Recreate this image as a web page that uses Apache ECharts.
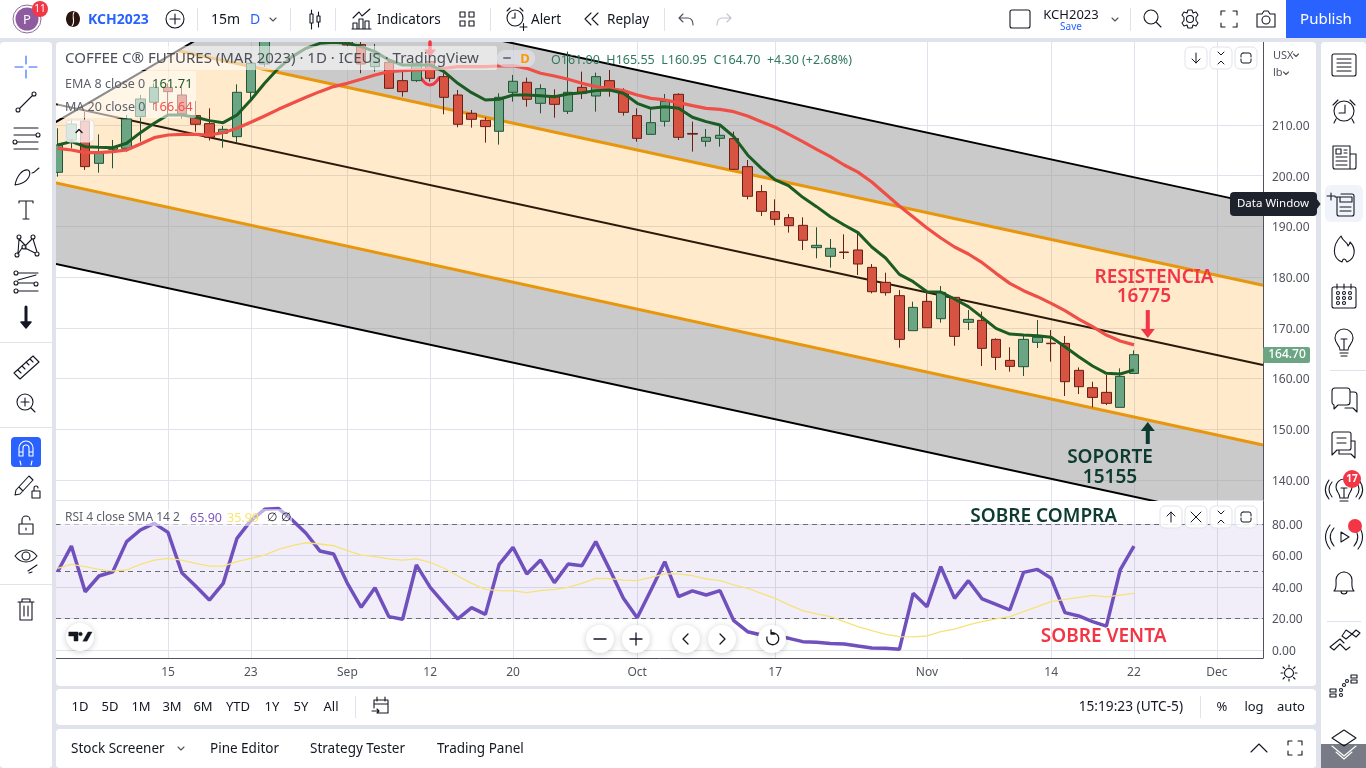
<!DOCTYPE html>
<html><head><meta charset="utf-8"><title>KCH2023</title>
<script src="https://cdn.jsdelivr.net/npm/echarts@6/dist/echarts.min.js"></script>
<style>html,body{margin:0;padding:0;background:#e0e3eb;overflow:hidden}#c{width:1366px;height:768px}</style>
</head><body><div id="c"></div>
<script>
// [open, close, low, high]
const candles = [
[200.67,206.06,199.81,209.35],[207.05,210.2,205.4,211.0],[210.8,201.79,201.13,212.63],[202.44,204.61,200.6,208.16],[205.2,205.6,201.46,207.05],
[205.4,211.19,204.75,211.98],[211.65,215.13,206.72,215.92],[214.48,217.43,212.96,218.22],[217.43,216.58,211.65,218.22],[215.92,212.17,211.32,217.57],
[211.85,210.14,208.69,214.74],[210.27,207.57,206.94,213.29],[208.36,209.15,205.53,209.81],[207.7,216.45,206.52,218.03],[216.45,222.17,214.93,222.8],
[222.04,227.4,221.5,229],[228,231,227,232],[231,233,229,234],[233,231,228,234],[231,232,228,233],
[232,230,227.5,233],[228.5,225.78,225.5,230],[225.85,222.04,220.2,226.6],[221.51,224.14,220.52,226],[222.36,217.24,217.1,222.8],
[218.75,216.58,215.59,220.85],[218.75,222.17,218.5,223.15],[222.5,219.21,218.55,226.7],[219.54,215.46,212.11,220.2],[215.92,210.14,209.55,216.91],
[212.31,211.12,209.48,212.96],[210.93,209.68,206.52,211.52],[208.76,215.46,206.13,216.25],[216.45,218.62,214.61,219.87],[218.42,215.07,213.62,219.34],
[214.28,217.17,212.31,218.03],[215.79,214.08,211.45,217.04],[212.7,216.45,212.17,224.47],[217.43,216.25,215.13,220.52],[215.72,219.54,212.63,220.33],
[218.75,216.91,215.59,220.85],[216.25,212.5,211.85,217.24],[211.85,207.37,206.72,213.29],[208.16,210.46,208.16,213.29],[210.73,214.67,209.68,216.12],
[216.05,207.57,207.05,216.25],[208.33,208.2,204.75,210.66],[206.78,207.57,205.73,209.22],[207.37,207.97,205.73,210.0],[207.31,201.26,201.13,208.69],
[201.79,195.94,195.34,203.1],[196.86,192.98,192.06,198.17],[192.91,191.4,190.21,195.34],[191.73,190.15,188.77,192.45],[190.21,187.26,185.35,191.79],
[185.81,186.27,183.71,189.82],[184.1,185.68,181.87,187.52],[184.95,184.85,183.57,188.44],[185.35,182.58,180.41,188.5],[181.92,177.12,176.8,182.58],
[178.97,176.93,176.34,180.87],[176.34,167.72,166.08,177.45],[169.43,174.03,169.43,175.15],[175.22,170.02,170.02,177.32],[171.8,176.99,171.01,178.24],
[176.01,168.31,166.47,176.01],[171.08,171.67,169.56,173.51],[171.47,165.95,162.46,173.18],[167.72,164.17,161.67,167.92],[163.58,162.4,161.35,166.15],
[162.33,167.72,160.49,168.38],[167.13,168.12,166.01,171.54],[166.97,166.87,163.32,169.56],[166.93,159.37,156.55,168.38],[161.61,158.39,156.94,162.2],
[158.19,156.28,154.31,159.37],[157.27,155.1,154.77,160.69],[154.31,160.42,154.31,162.0],[161.0,164.7,160.95,165.55]];
const ema8 = [206.06,206.72,205.73,205.6,205.53,206.39,208.49,210.33,211.98,211.98,211.52,210.86,210.46,211.98,214.94,218.22,221.18,223.48,225.13,226.11,226.31,226.11,225.46,224.47,222.82,221.84,221.84,221.84,220.52,218.22,216.38,214.94,215.07,215.92,215.92,215.79,215.59,216.12,216.38,216.78,216.91,216.25,214.28,213.29,213.62,213.29,211.52,210.66,210.0,207.7,204.09,201.46,199.16,197.97,195.74,193.9,191.92,190.28,188.77,185.94,183.77,180.54,179.1,177.12,177.06,175.68,174.17,172.06,169.89,168.77,168.58,168.45,168.12,166.28,164.3,162.46,161.02,160.88,161.71];
const ma20 = [205.4,205.07,204.55,204.55,204.75,205.07,206.26,207.5,208.03,208.16,208.16,208.03,208.49,209.35,210.53,211.78,213.09,214.28,215.46,216.58,217.57,218.22,219.01,219.87,220.52,220.72,220.85,220.98,221.18,221.51,221.51,221.51,221.64,221.71,221.18,220.2,219.67,219.01,218.22,217.57,217.17,216.78,215.92,215.26,214.94,214.41,213.82,213.29,213.09,212.63,211.78,210.66,209.55,208.16,206.72,205.2,203.76,202.11,200.7,198.76,196.39,194.02,191.85,189.68,187.71,185.94,184.56,182.84,180.74,178.77,177.32,176.14,174.82,173.38,171.73,170.22,168.58,167.39,166.64];
const rsi = [49.7,66.0,37.0,47.0,49.7,68.8,76.2,80.4,74.7,49.1,40.6,31.7,42.3,70.9,82.1,89.3,89.9,82.5,74.1,62.9,61.0,42.3,27.1,39.6,21.2,19.5,54.0,39.8,29.6,19.7,26.9,22.6,54.4,65.2,48.3,57.1,42.8,54.6,53.5,68.8,51.2,32.8,20.5,38.1,56.1,33.9,37.5,34.9,37.7,18.6,11.6,9.5,8.9,7.4,5.3,4.9,4.2,3.8,2.5,1.3,1.1,0.4,36.0,27.5,52.9,32.8,44.0,32.4,29.0,25.4,49.3,51.2,45.5,23.7,21.6,18.0,15.2,50.8,65.9];
const rsiSma = [51.9,54.4,52.9,51.2,50.2,50.8,54.4,57.1,58.2,57.1,55.0,53.3,53.3,56.1,58.2,60.3,63.9,66.2,68.1,67.3,66.2,63.1,60.3,59.3,57.8,57.1,57.8,55.7,51.9,47.0,42.3,38.5,37.7,37.5,36.4,37.7,38.5,39.8,42.3,45.5,45.3,44.4,44.0,46.1,48.3,48.3,47.2,45.1,44.0,41.3,39.2,36.0,32.8,28.6,25.0,22.9,21.2,18.0,14.8,12.3,9.9,8.5,8.3,8.9,11.6,13.3,15.9,18.0,19.7,21.2,24.3,27.5,30.7,32.2,33.4,34.7,33.7,34.9,35.99];
const tickIndex = [8,14,21,27,33,42,52,63,72,78,84];
const tickLabels = ['15','23','Sep','12','20','Oct','17','Nov','14','22','Dec'];
const priceTicks = [140,150,160,170,180,190,200,210];
const rsiTicks = [0,20,40,60,80];
// channel drawing anchors: [bar index, price]
const upperBlack = [[15.94,236.15],[87.35,194.2]];
const upperOrange = [[8.72,224.66],[87.35,178.4]];
const midLine = [[-1,214.6],[87.35,162.66]];
const lowerOrange = [[-1,199.08],[87.35,146.9]];
const lowerBlack = [[-1,183.1],[87.35,131.2]];
const diagonal = [[-1,209.2],[15.94,236.15]];
const xMin=-0.116, xMax=87.35;
const FONT = '"Noto Sans","Open Sans",sans-serif';
const INK = '#131722';
const G = [];
let shapeCount=0;
function rect(x,y,w,h,fill,r,z,extra){G.push({type:'rect',z:z==null?-5:z,silent:true,shape:{x,y,width:w,height:h,r:r||0},style:Object.assign({fill},extra||{})});}
function txt(x,y,s,o){o=o||{};G.push({type:'text',z:o.z||60,silent:true,x,y:y+1,style:{text:s,fill:o.c||INK,font:(o.w||'normal')+' '+(o.s||14)+'px '+(o.f||FONT),textAlign:o.a||'left',textVerticalAlign:'middle',opacity:o.o==null?1:o.o}});}
function ic(x,y,d,o){o=o||{};if(!d)return;const name='tvic'+(shapeCount++);echarts.graphic.registerShape(name,echarts.graphic.extendPath(d,{}));G.push({type:name,z:o.z||60,silent:true,x,y,style:{fill:o.fill||'none',stroke:o.c||INK,lineWidth:o.lw||1.1,lineCap:'round',lineJoin:'round'}});}
function cir(x,y,r){return `M${x-r} ${y}a${r} ${r} 0 1 0 ${2*r} 0a${r} ${r} 0 1 0 ${-2*r} 0`;}
function sep(x,y1,y2){rect(x,y1,1,y2-y1,'#e0e3eb',0,60);}
// panels
rect(56,42,1260,644,'#fff',4);
rect(0,0,1366,38,'#fff',0,10);
rect(0,38,1366,4,'#e0e3eb',0,10);
rect(0,42,52,726,'#fff',4,10);
rect(52,38,4,730,'#e0e3eb',0,10);
rect(1286,0,80,38,'#2962ff',0,60);
rect(0,342,52,1,'#e0e3eb',0,60);rect(0,427,52,1,'#e0e3eb',0,60);rect(0,584,52,1,'#e0e3eb',0,60);
rect(56,689,1260,36,'#fff',4);
rect(56,729,1260,39,'#fff',4);
rect(1321,42,45,726,'#fff',4);
rect(1321,744,45,24,'#787b86',0,60);
rect(1330,370,36,1,'#e0e3eb',0,60);
rect(1327,621,34,1,'#e0e3eb',0,60);
// top bar
G.push({type:'circle',z:60,silent:true,shape:{cx:27,cy:19,r:14},style:{fill:'#fff',stroke:'#8f6a9c',lineWidth:1}});
G.push({type:'circle',z:60,silent:true,shape:{cx:27,cy:19,r:11.5},style:{fill:'#8e5ba0'}});
txt(27,19,'P',{c:'#fff',a:'center',s:13});
G.push({type:'circle',z:61,silent:true,shape:{cx:40,cy:9,r:8},style:{fill:'#f23645'}});
txt(40,8,'11',{c:'#fff',a:'center',s:10,z:62});
G.push({type:'ellipse',z:60,silent:true,shape:{cx:73,cy:19,rx:7,ry:8},style:{fill:'#2b1410'}});
ic(73,19,'M1 -7C-2 -3 3 2 -1 7',{c:'#fff'});
txt(88,19,'KCH2023',{c:'#2962ff',w:'bold',s:14});
ic(175,19,cir(0,0,9)+'M-5 0H5M0 -5V5');
sep(197,8,31);
txt(211,19,'15m');txt(250,19,'D',{c:'#2962ff'});
ic(273,19,'M-3 -1L0 2L3 -1',{c:'#50535e'});
sep(290,8,31);
ic(315,19,'M-5 -5h3v9h-3zM2 -3h3v6h-3zM-3.5 -9V-5M-3.5 4V10M3.5 -7V-3M3.5 3V8');
sep(335,8,31);
ic(362,19,'M-9 -1L-3 -7L0 -3L8 -10M-9 10V4h4v6M-3 10V0h4v10M3 10V2h4v8M-10 10H9');
txt(377,19,'Indicators',{s:13.5});
ic(467,19,'M-7 -7h5v5h-5zM2 -7h5v5h-5zM-7 2h5v5h-5zM2 2h5v5h-5z');
sep(490,8,31);
ic(515,18,cir(0,0,8)+'M0 -5V0H-3M-8 -7L-5 -10M8 -7L5 -10M5 9H12M8.5 5.5V12.5');
txt(531,19,'Alert',{s:13.5});
ic(592,19,'M-1 -6L-7 0L-1 6M6 -6L0 0L6 6');
txt(607,19,'Replay',{s:13.5});
sep(664,8,31);
ic(686,19,'M-3 -5L-7 -1L-3 3M-7 -1H2C6 -1 7 3 7 6',{c:'#50535e'});
ic(724,19,'M3 -5L7 -1L3 3M7 -1H-2C-6 -1 -7 3 -7 6',{c:'#c1c4cd'});
ic(1020,19,'M-8 -9h16a2 2 0 0 1 2 2v14a2 2 0 0 1 -2 2h-16a2 2 0 0 1 -2 -2v-14a2 2 0 0 1 2 -2z');
txt(1071,14,'KCH2023',{a:'center',s:13});
txt(1071,26,'Save',{a:'center',s:10,c:'#2962ff'});
ic(1115,19,'M-3 -1L0 2L3 -1',{c:'#50535e'});
sep(1130,8,31);
ic(1152,18,cir(-1,-1,7)+'M4 4L9 9');
ic(1190,19,cir(0,0,3.5)+'M-2 -9h4l1 3l3 -1l2 3l-2 2.5v3l2 2.5l-2 3l-3 -1l-1 3h-4l-1 -3l-3 1l-2 -3l2 -2.5v-3l-2 -2.5l2 -3l3 1z');
ic(1229,19,'M-8 -4V-8H-4M4 -8H8V-4M8 4V8H4M-4 8H-8V4');
ic(1266,19,cir(0,1,4)+'M-9 -5h5l2 -3h4l2 3h5v13h-18z');
txt(1326,19,'Publish',{c:'#fff',a:'center',s:15});
// left toolbar
ic(26,67,'M-11 0H-3M3 0H11M0 -11V-3M0 3V11',{c:'#2962ff'});
ic(26,102,cir(-8,8,2)+cir(8,-8,2)+'M-6.5 6.5L6.5 -6.5');
ic(26,138,'M-12 -10H12M-12 -3H10M-9 4H12M-12 11H12'+cir(12,-3,2)+cir(-11,4,2));
ic(26,175,'M-11 10C-9 0 -3 -6 2 -5C6 -3 4 8 -11 10ZM6 -2C9 -2 10 -5 13 -7');
ic(26,210,'M-7 -7V-9H7V-7M0 -9V9M-3 9H3');
ic(26,246,cir(-7,-9,2)+cir(7,-9,2)+cir(-9,9,2)+cir(11,8,2)+cir(-2,1,2)+'M-7 -7L-8 7M-7 -7L-1 -1M6 -7L-1 0M7 -7L11 6M-1 2L9 7M-4 2L-8 8');
ic(26,283,cir(-10,-10,2)+cir(-10,0,2)+cir(10,1,2)+cir(-10,8,2)+'M-8 -10H12M-8 0H8M-8 8H12M-8 -3L10 -8',{});
ic(26,319,'M0 -12V4',{lw:3});ic(26,319,'M-5 3H5L0 9Z',{fill:INK,lw:1.5});
ic(26,367,'M-12 6L7 -11L13 -5L-6 12ZM-8 3L-5 6M-4 -1L-1 2M0 -5L3 -2M4 -8L7 -5');
ic(26,403,cir(-1,-1,8)+'M-5 -1H3M-1 -5V3M5 5L9 9');
rect(11,437,30,30,'#2962ff',4,60);
ic(26,449,'M-7 7V-1A7 7 0 0 1 7 -1V7H3V-1A3 3 0 0 0 -3 -1V7ZM-7 3H-3M3 3H7',{c:'#fff'});
ic(26,463,'M-6 -2L-5 2M6 -2L5 2',{c:'#fff'});
ic(25,484,'M-9 6L4 -8L8 -4L-5 10L-10 11ZM-6 3L-2 7');ic(36,492,'M-4 -1h8v7h-8zM-2 -1v-3a2 2 0 0 1 4 0');
ic(26,526,'M-7 -2h14v10h-14zM-4 -2v-4a4 4 0 0 1 8 0M0 2V4',{});
ic(26,556,'M-11 0C-5 -8 5 -8 11 0C5 8 -5 8 -11 0Z'+cir(0,0,4));ic(33,568,'M-5 3L4 -3M-4 5l3 -1');
ic(26,610,'M-8 -8H8M-4 -8V-11H4V-8M-6 -8V10H6V-8M-2 -4V6M2 -4V6');
// right toolbar
ic(1344,65,'M-10 -11H10a2 2 0 0 1 2 2V9a2 2 0 0 1 -2 2H-10a2 2 0 0 1 -2 -2V-9a2 2 0 0 1 2 -2ZM-7 -6H7M-7 -2H7M-7 2H7M-7 6H7');
ic(1344,111,cir(0,0,10)+'M1 -6V2H-5M-11 -6L-6 -11M11 -6L6 -11M-8 8L-10 12M8 8L10 12');
ic(1344,158,'M-11 -12H6V11H-9a2 2 0 0 1 -2 -2ZM6 -4H12V9a2 2 0 0 1 -2 2H6M-8 -9H-3V-4H-8ZM0 -8H3M0 -5H3M-8 -1H3M-8 3H3M-8 7H3');
rect(1325,185,38,37,'#f0f3fa',6,55);
ic(1344,205,'M-9 -8H-2M-13 -12V-5M-17 -9H-9M-7 -8V9a2 2 0 0 0 2 2H8a2 2 0 0 0 2 -2V-9a2 2 0 0 0 -2 -2H-3M-4 -8H8V-3H-4ZM-4 2H7M-4 6H7',{lw:1.1});
ic(1344,250,'M-3 -14C-1 -8 4 -8 4 -4C6 -6 6 -7 6 -8C12 -2 12 8 3 12C1 8 -1 8 -2 12C-12 8 -12 -4 -3 -14Z');
ic(1344,296,'M-10 -9H10a2 2 0 0 1 2 2V10a2 2 0 0 1 -2 2H-10a2 2 0 0 1 -2 -2V-7a2 2 0 0 1 2 -2ZM-7 -12V-7M7 -12V-7M0 -12V-7'+cir(-6,-3,1.5)+cir(0,-3,1.5)+cir(6,-3,1.5)+cir(-6,2,1.5)+cir(0,2,1.5)+cir(6,2,1.5)+cir(-6,7,1.5)+cir(0,7,1.5));
ic(1344,342,'M-4 8C-4 3 -9 2 -9 -4A9 9 0 0 1 9 -4C9 2 4 3 4 8ZM-3 -3H3M0 -3V8M-4 11H4M-3 14H3');
ic(1344,400,'M-9 -12H3a3 3 0 0 1 3 3V2a3 3 0 0 1 -3 3H-6L-10 9V5a3 3 0 0 1 -2 -3V-9a3 3 0 0 1 3 -3ZM6 -8H10a3 3 0 0 1 3 3V6L13 12L9 8H1');
ic(1344,445,'M-10 -13H5a2 2 0 0 1 2 2V3a2 2 0 0 1 -2 2H-7L-12 10V-11a2 2 0 0 1 2 -2ZM-7 -7H2M-7 -2H2M7 -4H11V13L7 9H-5V5');
ic(1344,490,'M-4 8C-4 3 -8 2 -8 -3A8 8 0 0 1 8 -3C8 2 4 3 4 8ZM-3 -2H3M0 -2V8M-4 11H4M-12 -8C-16 -3 -16 2 -12 7M-15 -10C-20 -3 -20 3 -15 9M12 -8C16 -3 16 2 12 7M15 -10C20 -3 20 3 15 9');
G.push({type:'circle',z:61,silent:true,shape:{cx:1352,cy:479,r:9},style:{fill:'#f23645'}});
txt(1352,478,'17',{c:'#fff',a:'center',s:10,w:'bold',z:62});
ic(1344,537,'M-3 -5L5 0L-3 5ZM-10 -9C-15 -3 -15 3 -10 9M-14 -12C-20 -4 -20 4 -14 12M10 -9C15 -3 15 3 10 9M14 -12C20 -4 20 4 14 12');
G.push({type:'circle',z:61,silent:true,shape:{cx:1355,cy:526,r:7},style:{fill:'#f23645'}});
ic(1344,583,'M-10 8C-7 5 -8 1 -8 -3A8 8 0 0 1 8 -3C8 1 7 5 10 8ZM-3 8A3 3 0 0 0 3 8M-1 -11H1');
ic(1344,640,'M-14 7L-4 -1L0 3L-4 -1L-14 7M-14 7l4 3l6 -6l6 6l4 -3M-2 -4L2 -1L8 -6l4 3l4 -4l-4 -3l-4 4l-6 -4z');
ic(1344,686,cir(0,-1,1.5)+cir(-3,4,1.5)+cir(3,-5,1.5)+cir(-3,9,1.5)+'M7 -11h6v3h-6zM7 -6h6v3h-6zM-14 3h6v3h-6zM-14 8h6v3h-6z');
ic(1344,738,'M-12 0L0 -8L12 0L0 8Z');
ic(1344,748,'M-12 -2L0 8L12 -2',{c:'#fff',z:61});ic(1344,756,'M-8 -4L0 3L8 -4',{c:'#fff',z:61});
// bottom bars
[['1D',80],['5D',110],['1M',141],['3M',172],['6M',203],['YTD',238],['1Y',272],['5Y',301],['All',331]].forEach(a=>txt(a[1],706,a[0],{a:'center',s:13}));
sep(355,696,718);
ic(381,706,'M-7 -6H7V7H-4M-7 -6V2M-4 -9V-5M4 -9V-5M-7 -2H7M-9 5H-2M-4 3L-2 5L-4 7');
txt(1183,706,'15:19:23 (UTC-5)',{a:'right',s:13.7});
sep(1200,696,718);
txt(1222,706,'%',{a:'center',s:13});txt(1254,706,'log',{a:'center',s:13});txt(1291,706,'auto',{a:'center',s:13});
txt(71,748,'Stock Screener',{s:13.5});ic(181,748,'M-3 -1L0 2L3 -1',{c:'#50535e'});
txt(210,748,'Pine Editor',{s:13.5});txt(310,748,'Strategy Tester',{s:13.5});txt(437,748,'Trading Panel',{s:13.5});
ic(1259,748,'M-8 4L0 -4L8 4');ic(1295,748,'M-7 -3V-7H-3M3 -7H7V-3M7 3V7H3M-3 7H-7V3');
// drawn marker on chart
ic(430,78,'M-9 0Q0 14 9 0',{c:'#f23645',lw:3.2,z:3});
ic(430,42,'M0 0V8',{c:'#f23645',lw:3.5,z:11});ic(430,50,'M-5 0H5L0 6Z',{c:'#f23645',fill:'#f23645',z:11});
// legends, translucent
rect(58,46,439,24,'rgba(255,255,255,0.55)',2,50);
rect(58,71,138,47,'rgba(255,255,255,0.55)',2,50);
txt(65,58,'COFFEE C® FUTURES (MAR 2023) · 1D · ICEUS · TradingView',{s:15,c:'#4c4f59'});
rect(497,50,38,17,'rgba(224,227,235,0.7)',8,51);
ic(507,58,'M-3 0H3',{c:'#787b86',lw:2});
txt(525,58,'D',{c:'#ff9800',a:'center',s:13,w:'bold'});
txt(551,59,'O161.00  H165.55  L160.95  C164.70  +4.30 (+2.68%)',{s:12.5,c:'#2f7a5f'});
txt(65,83,'EMA 8 close 0',{s:12.5,c:'#5d606b'});txt(152,83,'161.71',{s:13,c:'#1a5c24'});
txt(65,106,'MA 20 close 0',{s:12.5,c:'#5d606b'});txt(152,106,'166.64',{s:13,c:'#ef5350'});
rect(66,120,28,22,'rgba(255,255,255,0.75)',4,51,{stroke:'#e0e3eb'});
ic(79,131,'M-3 1.5L0 -1.5L3 1.5',{lw:1.4});
rect(60,509,232,17,'rgba(255,255,255,0.55)',2,50);
txt(65,517,'RSI 4 close SMA 14 2',{s:12,c:'#5d606b'});
txt(190,517,'65.90',{s:12.5,c:'#7e57c2'});txt(227,517,'35.99',{s:12.5,c:'#fbe56a'});txt(267,517,'∅',{s:12,c:'#131722'});txt(281,517,'∅',{s:12,c:'#131722'});
// pane buttons
function btn(cx,cy,d){rect(cx-11,cy-11,22,22,'rgba(255,255,255,0.85)',5,58,{stroke:'#e0e3eb'});ic(cx,cy,d,{lw:1});}
const ARROW_D='M0 -5V5M-4 1L0 5L4 1', ARROW_U='M0 5V-5M-4 -1L0 -5L4 -1', CROSS='M-5 -5L5 5M5 -5L-5 5', COLL='M-3 -6L0 -3L3 -6M-3 6L0 3L3 6', MAXI='M-3 -5H3A2 2 0 0 1 5 -3V-1M5 1V3A2 2 0 0 1 3 5H-3A2 2 0 0 1 -5 3V1M-5 -1V-3A2 2 0 0 1 -3 -5';
btn(1196,58,ARROW_D);btn(1221,58,COLL);btn(1246,58,MAXI);
btn(1171,517,ARROW_U);btn(1196,517,CROSS);btn(1221,517,COLL);btn(1246,517,MAXI);
// axis corner items
txt(1273,55,'USX',{s:11,c:'#50535e'});ic(1296,55,'M-2.5 -1L0 1.5L2.5 -1',{c:'#50535e'});
txt(1273,72,'lb',{s:11,c:'#50535e'});ic(1286,73,'M-2.5 -1L0 1.5L2.5 -1',{c:'#50535e'});
rect(1263,347,47,16,'#6ba583',2,60);
txt(1287,354,'164.70',{c:'#fff',a:'center',s:12,z:61,w:'500'});
ic(1289,673,cir(0,0,4.5)+'M0 -8V-6M0 6V8M-8 0H-6M6 0H8M-6 -6L-4.5 -4.5M6 -6L4.5 -4.5M-6 6L-4.5 4.5M6 6L4.5 4.5');
// tooltip
rect(1230,192,87,24,'#1e222d',4,70);
ic(1317,204,'M0 -4L3 0L0 4Z',{c:'#1e222d',fill:'#1e222d',z:70});
txt(1273,203,'Data Window',{c:'#fff',a:'center',s:11.5,z:71});
// nav bubbles
function bubble(cx,cy,d){G.push({type:'circle',z:58,silent:true,shape:{cx,cy,r:14},style:{fill:'#fff',shadowBlur:6,shadowColor:'rgba(0,0,0,0.2)',shadowOffsetY:1}});ic(cx,cy,d,{lw:1.3});}
bubble(600,639,'M-6 0H6');bubble(636,639,'M-6 0H6M0 -6V6');bubble(686,639,'M2 -5L-3 0L2 5');bubble(722,639,'M-2 -5L3 0L-2 5');
bubble(772,639,'M-5 -2A6 6 0 1 0 -1 -6M-1 -9V-5H3');
bubble(80,637,'');
ic(80,637,'M-11 -5H-2V4H-6V-1H-11ZM3 4L8 -5H12L7 4Z',{fill:INK,lw:.5});
ic(80,637,cir(0.5,-3,1.8),{fill:INK,lw:.5});

const cs = candles.map((c,i)=>[i,c[0],c[1],c[2],c[3]]);
const xy = a=>a.map((v,i)=>[i,v]);
function poly(points,fill,z){return {type:'custom',xAxisIndex:0,yAxisIndex:0,z,clip:true,silent:true,data:points,encode:{x:0,y:1},
  renderItem:(p,api)=>p.dataIndex===0?{type:'polygon',shape:{points:points.map(q=>api.coord(q))},style:{fill}}:null};}
function seg(d,color,w,z){return {type:'line',xAxisIndex:0,yAxisIndex:0,data:d,symbol:'none',silent:true,z,clip:true,lineStyle:{color,width:w}};}
const annots=[
 {t:'RESISTENCIA',x:79.45,y:180.0,c:'#f23645',g:0},{t:'16775',x:78.72,y:176.07,c:'#f23645',g:0},
 {t:'SOPORTE',x:76.26,y:144.5,c:'#0d3b30',g:0},{t:'15155',x:76.26,y:140.37,c:'#0d3b30',g:0},
 {t:'SOBRE COMPRA',x:71.46,y:85.0,c:'#0d3b30',g:1},{t:'SOBRE VENTA',x:75.8,y:8.2,c:'#f23645',g:1}];
function annot(g){return {type:'scatter',xAxisIndex:g,yAxisIndex:g,z:20,symbolSize:1,silent:true,clip:false,itemStyle:{color:'rgba(0,0,0,0)',opacity:1},
  data:annots.filter(a=>a.g===g).map(a=>({value:[a.x,a.y],label:{show:true,position:'inside',formatter:a.t,color:a.c,opacity:1,fontSize:19,fontFamily:FONT,fontWeight:600}}))};}
const arrows=[[79,173.5,168.0,'#f23645'],[79,147.08,151.42,'#0d3b30']];
function arrowSeries(){return {type:'custom',xAxisIndex:0,yAxisIndex:0,z:20,silent:true,clip:true,data:arrows.map(a=>[a[0],a[1],a[2]]),encode:{x:0,y:[1,2]},
  renderItem:(p,api)=>{const a=api.coord([api.value(0),api.value(1)]),b=api.coord([api.value(0),api.value(2)]);const col=arrows[p.dataIndex][3];const d=b[1]>a[1]?1:-1;
   return {type:'group',children:[{type:'line',shape:{x1:a[0],y1:a[1],x2:b[0],y2:b[1]-d*6},style:{stroke:col,lineWidth:4}},
     {type:'polygon',shape:{points:[[b[0],b[1]],[b[0]-7,b[1]-d*9],[b[0]+7,b[1]-d*9]]},style:{fill:col}}]};}};}

const xBase=(extra)=>Object.assign({type:'value',min:xMin,max:xMax,axisTick:{show:false,customValues:tickIndex},splitLine:{show:true,lineStyle:{color:'#e0e3eb',width:1}}},extra);
const yLabel=(vals)=>({customValues:vals,margin:9,color:'#50535e',fontSize:12,fontFamily:FONT,formatter:v=>`{a|${v.toFixed(2)}}`,rich:{a:{padding:[3,0,0,0],color:'#50535e',fontSize:12,fontFamily:FONT}}});
const chart=echarts.init(document.getElementById('c'),null,{renderer:'canvas',width:1366,height:768});
chart.setOption({
 animation:false,backgroundColor:'#e0e3eb',textStyle:{fontFamily:FONT},
 grid:[{left:56,top:42,width:1207,height:458},{left:56,top:500,width:1207,height:158}],
 xAxis:[
  xBase({gridIndex:0,axisLine:{show:true,onZero:false,lineStyle:{color:'#e0e3eb'}},axisLabel:{show:false,customValues:tickIndex}}),
  xBase({gridIndex:1,axisLine:{show:true,onZero:false,lineStyle:{color:'#50535e'}},axisLabel:{show:true,customValues:tickIndex,margin:9,color:'#50535e',fontSize:12,fontFamily:FONT,formatter:v=>tickLabels[tickIndex.indexOf(v)]||''}})
 ],
 yAxis:[
  {type:'value',gridIndex:0,position:'right',min:136.04,max:226.37,axisLine:{show:true,onZero:false,lineStyle:{color:'#50535e'}},axisTick:{show:false,customValues:priceTicks},splitLine:{show:true,lineStyle:{color:'#e0e3eb'}},axisLabel:yLabel(priceTicks)},
  {type:'value',gridIndex:1,position:'right',min:-5.08,max:95.24,axisLine:{show:true,onZero:false,lineStyle:{color:'#50535e'}},axisTick:{show:false,customValues:rsiTicks},splitLine:{show:true,lineStyle:{color:'#e0e3eb'}},axisLabel:yLabel(rsiTicks)}
 ],
 graphic:{elements:G},
 series:[
  poly([upperBlack[0],upperBlack[1],upperOrange[1],upperOrange[0]],'rgba(150,150,150,0.5)',1),
  poly([upperOrange[0],upperOrange[1],lowerOrange[1],lowerOrange[0],diagonal[0]],'rgba(255,152,0,0.2)',1),
  poly([lowerOrange[0],lowerOrange[1],lowerBlack[1],lowerBlack[0]],'rgba(150,150,150,0.5)',1),
  seg(upperBlack,'#000',2,2),seg(upperOrange,'#e8960c',3,2),seg(midLine,'#2b1a0a',2,2),seg(lowerOrange,'#e8960c',3,2),seg(lowerBlack,'#000',2,2),seg(diagonal,'#000',2,2),
  {type:'candlestick',xAxisIndex:0,yAxisIndex:0,z:4,silent:true,clip:true,barWidth:10,dimensions:['x','open','close','low','high'],encode:{x:0,y:[1,2,3,4]},data:cs,
   itemStyle:{color:'#6ba583',color0:'#d75442',borderColor:'#225437',borderColor0:'#6b1e13',borderWidth:1}},
  {type:'line',name:'MA 20',xAxisIndex:0,yAxisIndex:0,z:5,data:xy(ma20),symbol:'none',silent:true,clip:true,lineStyle:{color:'#ef4f47',width:3.2}},
  {type:'line',name:'EMA 8',xAxisIndex:0,yAxisIndex:0,z:6,data:xy(ema8),symbol:'none',silent:true,clip:true,lineStyle:{color:'#1a5c24',width:3}},
  arrowSeries(),annot(0),
  {type:'line',name:'RSI',xAxisIndex:1,yAxisIndex:1,z:6,data:xy(rsi),symbol:'none',silent:true,clip:true,lineStyle:{color:'#7050bd',width:3.5},
   markArea:{silent:true,itemStyle:{color:'rgba(126,87,194,0.1)'},data:[[{yAxis:20},{yAxis:80}]]},
   markLine:{silent:true,symbol:'none',label:{show:false},lineStyle:{color:'#6a6d78',type:[5,4],width:1},data:[{yAxis:80},{yAxis:50},{yAxis:20}]}},
  {type:'line',name:'RSI SMA',xAxisIndex:1,yAxisIndex:1,z:7,data:xy(rsiSma),symbol:'none',silent:true,clip:true,lineStyle:{color:'#f5e37a',width:1.3}},
  annot(1)
 ]
});
</script></body></html>
